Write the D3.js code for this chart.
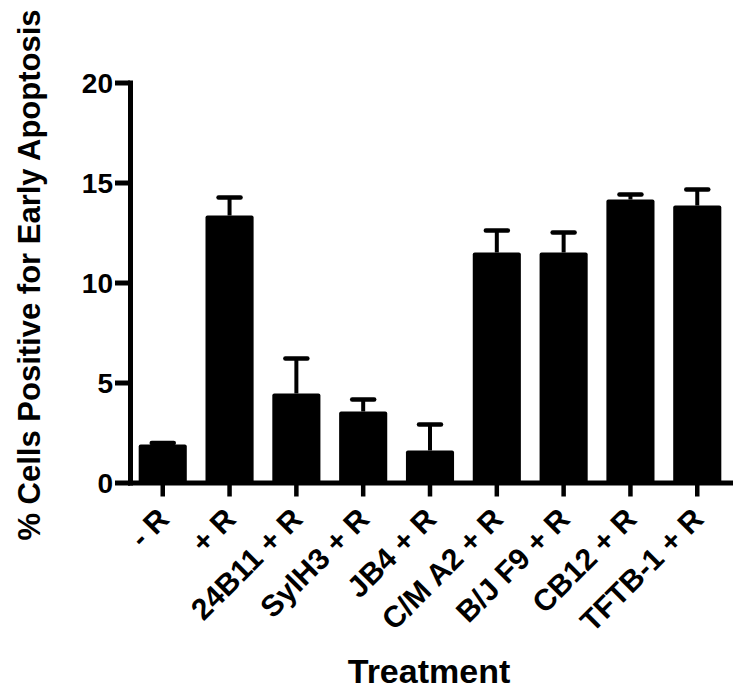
<!DOCTYPE html>
<html>
<head>
<meta charset="utf-8">
<script src="https://cdn.jsdelivr.net/npm/d3@7"></script>
<style>
  html, body { margin: 0; padding: 0; background: #fff; }
  svg { display: block; }
  text { font-family: "Liberation Sans", Arial, Helvetica, sans-serif; font-weight: bold; fill: #000; }
</style>
</head>
<body>
<svg id="chart" width="738" height="689"></svg>
<script>
const categories = ["- R", "+ R", "24B11 + R", "SylH3 + R", "JB4 + R", "C/M A2 + R", "B/J F9 + R", "CB12 + R", "TFTB-1 + R"];
const means = [1.9, 13.35, 4.45, 3.55, 1.6, 11.5, 11.5, 14.15, 13.85];
const errors = [0.08, 0.9, 1.75, 0.6, 1.3, 1.1, 1.0, 0.25, 0.8];
const yTicks = [0, 5, 10, 15, 20];
const yTitle = "% Cells Positive for Early Apoptosis";
const xTitle = "Treatment";

const svg = d3.select("#chart");

const x = d3.scaleBand()
  .domain(categories)
  .range([130, 730])
  .paddingInner(0.28)
  .paddingOuter(0.13);

const y = d3.scaleLinear()
  .domain([0, 20])
  .range([482.5, 82.5]);

// Bars
svg.append("g").selectAll("rect")
  .data(categories)
  .join("rect")
  .attr("x", d => x(d))
  .attr("y", (d, i) => y(means[i]))
  .attr("width", x.bandwidth())
  .attr("height", (d, i) => y(0) - y(means[i]))
  .attr("rx", 2)
  .attr("fill", "#000");

// Error bars (upper only)
const eg = svg.append("g").attr("stroke", "#000").attr("fill", "none");
categories.forEach((c, i) => {
  const cx = x(c) + x.bandwidth() / 2;
  eg.append("line")
    .attr("x1", cx).attr("x2", cx)
    .attr("y1", y(means[i])).attr("y2", y(means[i] + errors[i]))
    .attr("stroke-width", 4);
  eg.append("line")
    .attr("x1", cx - 11).attr("x2", cx + 11)
    .attr("y1", y(means[i] + errors[i])).attr("y2", y(means[i] + errors[i]))
    .attr("stroke-width", 4.5)
    .attr("stroke-linecap", "round");
});

// Y axis
const yAxis = svg.append("g")
  .attr("transform", "translate(130,0)")
  .call(d3.axisLeft(y).tickValues(yTicks).tickSize(15).tickSizeOuter(0).tickPadding(2));
yAxis.select(".domain").attr("stroke-width", 5).attr("stroke-linecap", "square");
yAxis.selectAll(".tick line").attr("stroke-width", 5);
yAxis.selectAll(".tick text").attr("font-size", 28).attr("font-family", null).attr("dy", "0.36em");

// X axis
const xAxis = svg.append("g")
  .attr("transform", `translate(0,${y(0)})`)
  .call(d3.axisBottom(x).tickSize(14).tickSizeOuter(0).tickFormat(""));
xAxis.select(".domain").attr("stroke-width", 5).attr("stroke-linecap", "square");
xAxis.selectAll(".tick line").attr("stroke-width", 4.5);

// Rotated category labels
svg.append("g").selectAll("text")
  .data(categories)
  .join("text")
  .attr("transform", d => `translate(${x(d) + x.bandwidth() / 2 + 8},521) rotate(-45)`)
  .attr("text-anchor", "end")
  .attr("font-size", 30)
  .text(d => d);

// Axis titles
svg.append("text")
  .attr("transform", "translate(40,275) rotate(-90)")
  .attr("text-anchor", "middle")
  .attr("font-size", 31)
  .text(yTitle);

svg.append("text")
  .attr("x", 429)
  .attr("y", 683)
  .attr("text-anchor", "middle")
  .attr("font-size", 34)
  .text(xTitle);
</script>
</body>
</html>
